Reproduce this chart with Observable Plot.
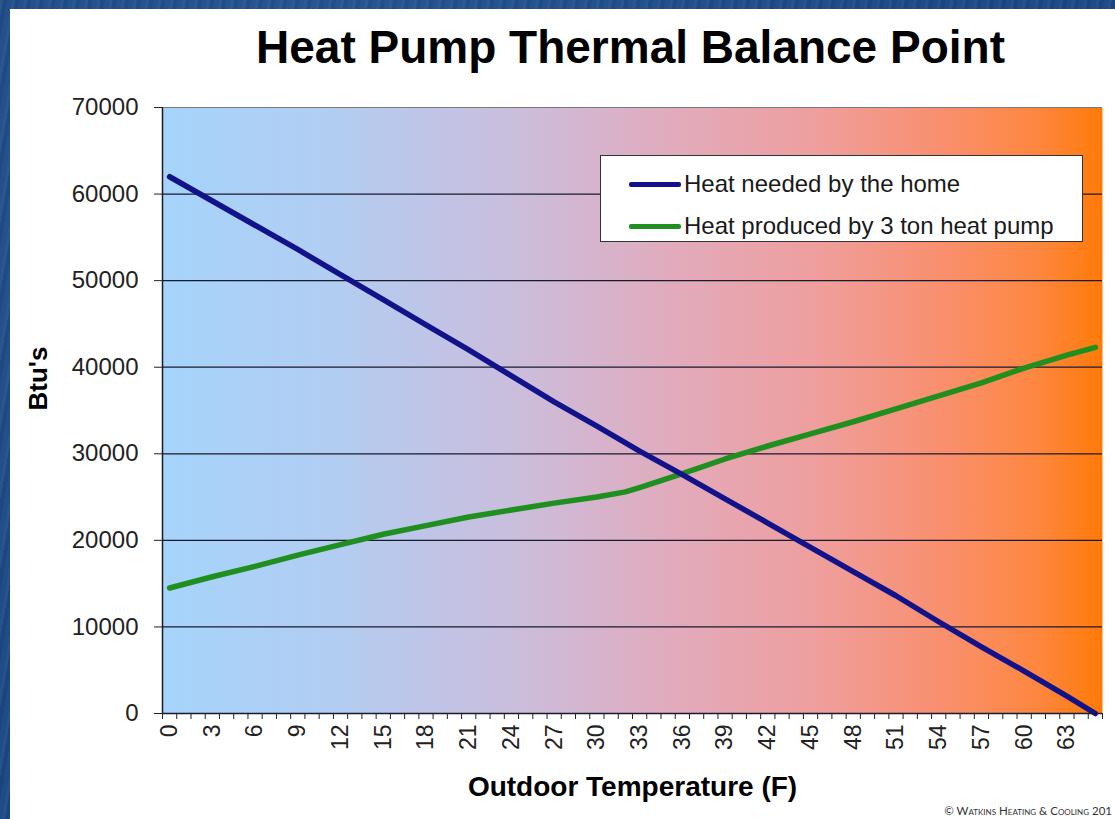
<!DOCTYPE html>
<html>
<head>
<meta charset="utf-8">
<script src="https://cdn.jsdelivr.net/npm/d3@7"></script>
<script src="https://cdn.jsdelivr.net/npm/@observablehq/plot@0.6"></script>
<style>
  html, body { margin: 0; padding: 0; }
  body {
    width: 1115px; height: 819px; overflow: hidden; position: relative;
    background-color: #1b4884;
    background-image:
      repeating-linear-gradient(100deg, rgba(255,255,255,0.05) 0 3px, rgba(0,0,0,0.04) 3px 7px, rgba(255,255,255,0.02) 7px 12px),
      radial-gradient(circle at 30% 20%, rgba(60,110,170,0.35), rgba(0,0,0,0) 60%);
    font-family: "Liberation Sans", Arial, sans-serif;
  }
  #panel {
    position: absolute; left: 10px; top: 9px; width: 1105px; height: 810px;
    background: #fff; overflow: hidden;
  }
  #title {
    height: 76px; box-sizing: border-box; padding-top: 15px; padding-left: 246px;
    font-size: 46px; font-weight: bold; line-height: 1; color: #000; white-space: nowrap;
  }
  #legend {
    position: absolute; left: 590px; top: 146px; width: 483px; height: 87px;
    border: 1.5px solid #333; background: #fff; box-sizing: border-box;
  }
  .item { position: absolute; left: 28px; display: flex; align-items: center; font-size: 24px; color: #1a1a1a; white-space: nowrap; }
  .swatch { width: 52px; height: 5px; margin-right: 3px; border-radius: 2px; }
  #credit {
    position: absolute; right: 3px; top: 795px; font-size: 11.5px; color: #333;
    font-family: "Lato", "Open Sans", sans-serif; font-variant: small-caps; white-space: nowrap;
  }
</style>
</head>
<body>
<div id="panel">
  <div id="title">Heat Pump Thermal Balance Point</div>
  <div id="chart"></div>
  <div id="legend">
    <div class="item" style="top:14px"><div class="swatch" style="background:#12128a"></div>Heat needed by the home</div>
    <div class="item" style="top:56px"><div class="swatch" style="background:#1f8f1f"></div>Heat produced by 3 ton heat pump</div>
  </div>
  <div id="credit">© Watkins Heating &amp; Cooling 201</div>
</div>
<script>
// Outdoor temperature categories (F) and tick labels
const tempTicks = [0,3,6,9,12,15,18,21,24,27,30,33,36,39,42,45,48,51,54,57,60,63];
const yTicks = [0,10000,20000,30000,40000,50000,60000,70000];

// Heat needed by the home (Btu)
const neededTemps = [0,3,6,9,12,15,18,21,24,27,30,33,36,39,42,45,48,51,54,57,60,63,65];
const neededBtu   = [62000,59200,56400,53600,50700,47800,44900,42000,39000,36000,33200,30300,27600,24800,22000,19200,16400,13600,10600,7700,4900,2000,0];

// Heat produced by 3 ton heat pump (Btu)
const producedTemps = [0,3,6,9,12,15,18,21,24,27,30,32,33,36,39,42,45,48,51,54,57,60,63,65];
const producedBtu   = [14500,15800,17000,18300,19500,20700,21700,22700,23500,24300,25000,25600,26100,27700,29400,30900,32300,33700,35200,36700,38200,39900,41400,42300];

const needed = neededTemps.map((t, i) => ({t, v: neededBtu[i]}));
const produced = producedTemps.map((t, i) => ({t, v: producedBtu[i]}));
const catEdges = d3.range(-0.5, 66, 1);

const chart = Plot.plot({
  width: 1105,
  height: 734,
  marginLeft: 152,
  marginRight: 13,
  marginTop: 22,
  marginBottom: 106,
  style: {fontFamily: "'Liberation Sans', Arial, sans-serif", color: "#222", background: "transparent"},
  x: {type: "linear", domain: [-0.5, 65.5]},
  y: {domain: [0, 70000]},
  marks: [
    Plot.frame({fill: "url(#bggrad)", stroke: null}),
    Plot.ruleY(yTicks.filter(d => d > 0 && d < 70000), {stroke: "#1a1a2e", strokeWidth: 1.2}),
    Plot.ruleY([70000], {stroke: "#7a7a7a", strokeWidth: 1.2}),
    Plot.line(produced, {x: "t", y: "v", stroke: "#1f8f1f", strokeWidth: 5.5, strokeLinejoin: "round"}),
    Plot.line(needed, {x: "t", y: "v", stroke: "#12128a", strokeWidth: 5.5, strokeLinejoin: "round"}),
    Plot.ruleX([-0.5], {stroke: "#1a1a2e", strokeWidth: 1.5}),
    Plot.ruleY([0], {stroke: "#1a1a2e", strokeWidth: 1.5}),
    Plot.axisY(yTicks, {tickSize: 8, tickPadding: 16, fontSize: 24, label: null, tickFormat: d => String(d)}),
    Plot.axisX(catEdges, {tickSize: 6, tickFormat: () => "", label: null}),
    Plot.axisX(tempTicks, {tickSize: 0, tickRotate: -90, tickPadding: 11, fontSize: 23, label: null}),
    Plot.text(["Outdoor Temperature (F)"], {frameAnchor: "bottom", dy: 82, fontSize: 28, fontWeight: "bold", fill: "#000"}),
    Plot.text(["Btu's"], {frameAnchor: "left", dx: -124, rotate: -90, fontSize: 26, fontWeight: "bold", fill: "#000"})
  ]
});

const defs = d3.select(chart).insert("defs", ":first-child");
const g = defs.append("linearGradient").attr("id", "bggrad").attr("x1", 0).attr("x2", 1).attr("y1", 0).attr("y2", 0);
[[0, "#a6d4fb"], [0.18, "#b2cdf2"], [0.38, "#cbbddc"], [0.55, "#e2aabb"], [0.7, "#ef9e9c"], [0.83, "#f98f6e"], [0.93, "#fe8740"], [1, "#ff7a08"]]
  .forEach(([o, c]) => g.append("stop").attr("offset", o).attr("stop-color", c));

document.getElementById("chart").appendChild(chart);
</script>
</body>
</html>
